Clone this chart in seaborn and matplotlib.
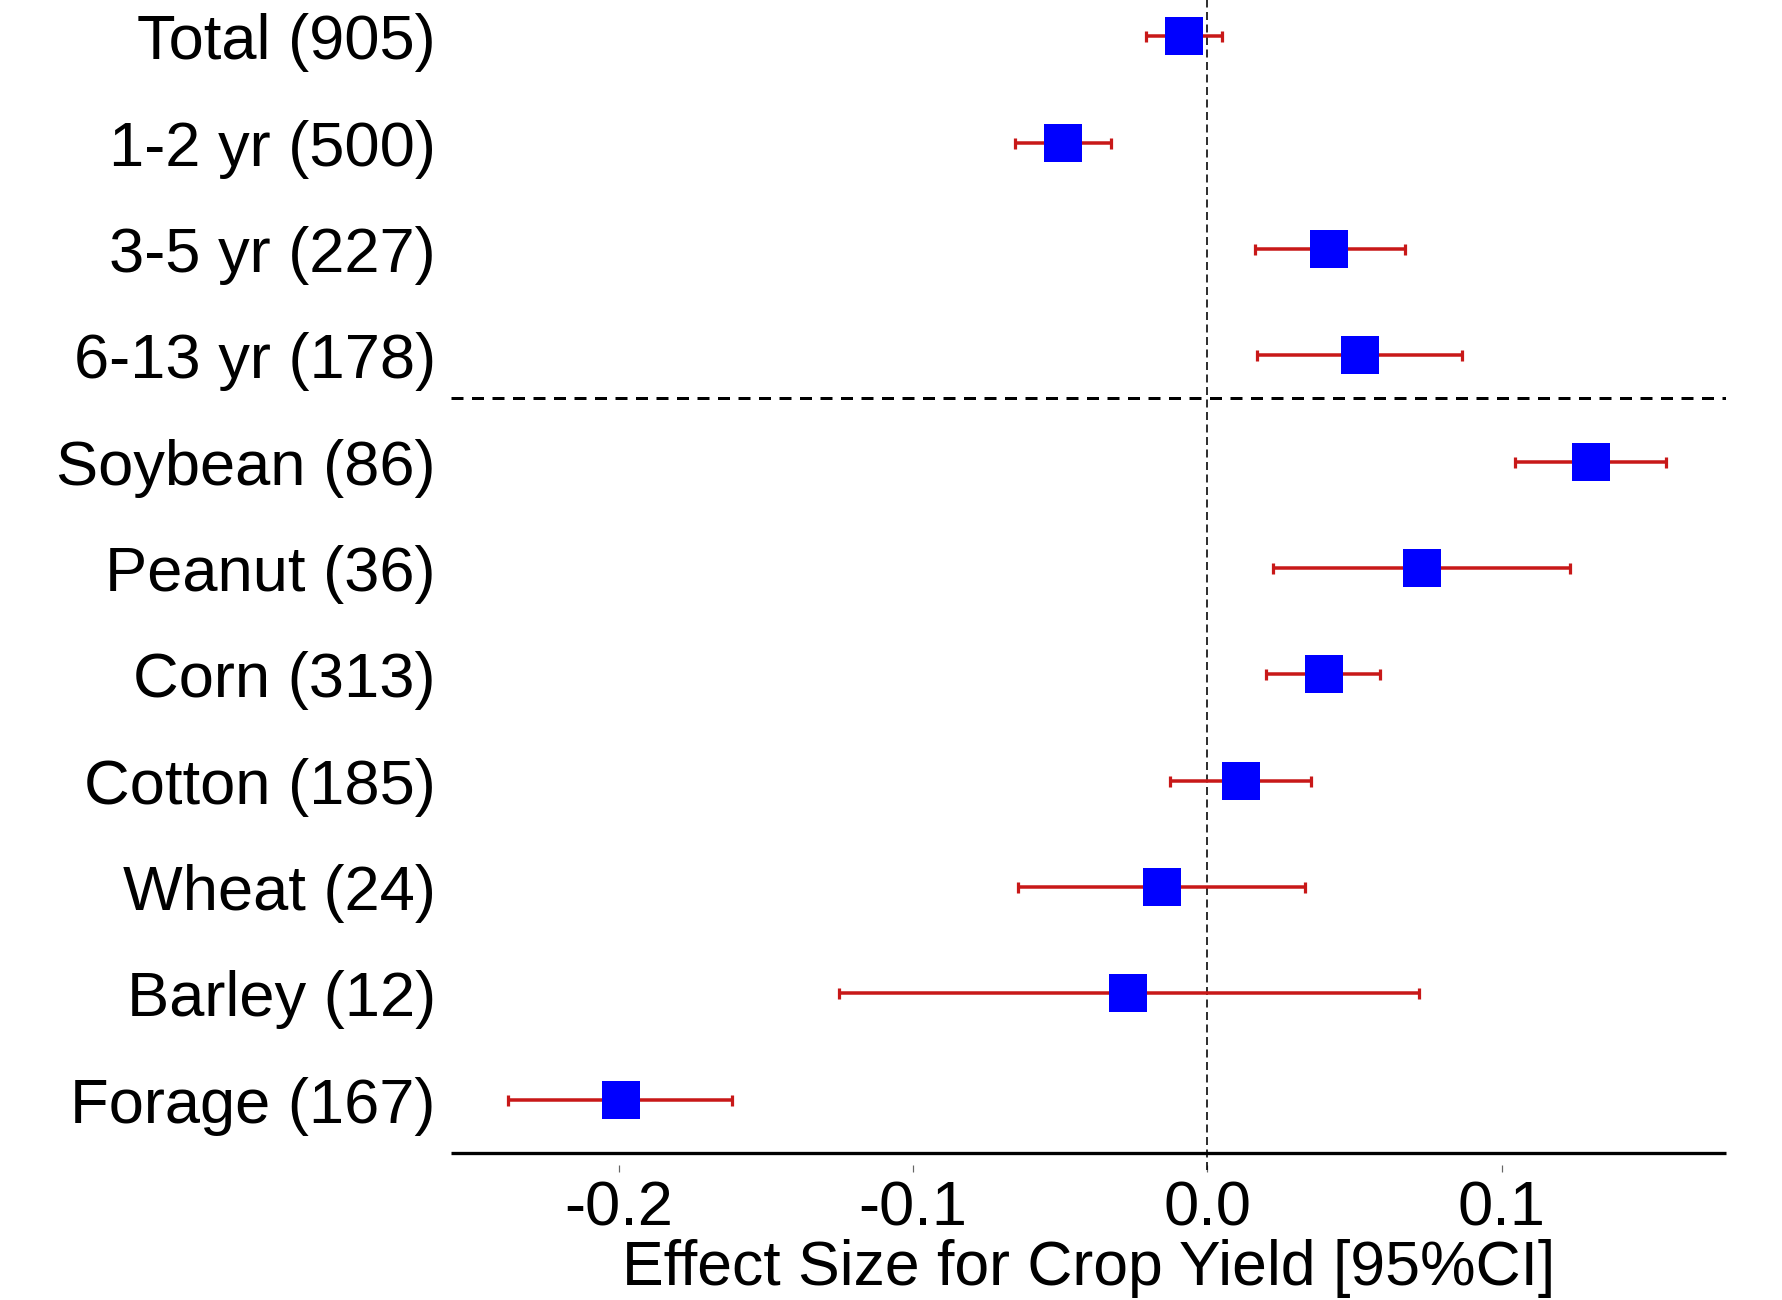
import numpy as np
import pandas as pd
import matplotlib
matplotlib.use("Agg")
import matplotlib.pyplot as plt
import seaborn as sns

# ---- data ----
labels = ["Total (905)", "1-2 yr (500)", "3-5 yr (227)", "6-13 yr (178)",
          "Soybean (86)", "Peanut (36)", "Corn (313)", "Cotton (185)",
          "Wheat (24)", "Barley (12)", "Forage (167)"]
effect = [-0.0078, -0.0490, 0.0414, 0.0519, 0.1304, 0.0728, 0.0397, 0.0116,
          -0.0154, -0.0270, -0.1991]
ci_low = [-0.0208, -0.0652, 0.0162, 0.0168, 0.1046, 0.0223, 0.0200, -0.0125,
          -0.0643, -0.1252, -0.2374]
ci_high = [0.0051, -0.0328, 0.0670, 0.0864, 0.1557, 0.1232, 0.0588, 0.0351,
           0.0333, 0.0719, -0.1614]
xticks = [-0.2, -0.1, 0.0, 0.1]
xtick_labels = ["-0.2", "-0.1", "0.0", "0.1"]
separator_after = 3.4
xlabel = "Effect Size for Crop Yield [95%CI]"

df = pd.DataFrame({"label": labels, "est": effect, "lo": ci_low, "hi": ci_high})
df["pos"] = np.arange(len(df))

sns.set_theme(style="white")
plt.rcParams["font.family"] = ["Liberation Sans", "DejaVu Sans"]
plt.rcParams["lines.scale_dashes"] = False

DPI = 100
fig = plt.figure(figsize=(17.82, 13.0), dpi=DPI)
ax = fig.add_axes([451 / 1782, 147 / 1300, (1726 - 451) / 1782, 1153 / 1300])

px = 72.0 / DPI  # points per pixel
FS = 45.5

# error bars
ax.errorbar(df["est"], df["pos"],
            xerr=[df["est"] - df["lo"], df["hi"] - df["est"]],
            fmt="none", ecolor="#C81818", elinewidth=3.5 * px,
            capsize=5.5 * px, capthick=3.2 * px, zorder=2)

# squares
sns.scatterplot(data=df, x="est", y="pos", marker="s", s=(37.5 * px) ** 2,
                color="#0000FF", edgecolor="#0000FF", linewidth=0,
                zorder=3, ax=ax, legend=False)

# reference lines
ax.axvline(0, ymin=-0.015, ymax=1, color="black", lw=1.6 * px,
           dashes=(8 * px, 4.5 * px), zorder=1, clip_on=False)
ax.axhline(separator_after, color="black", lw=3 * px,
           dashes=(12 * px, 8.5 * px), zorder=1)

ax.set_xlim(-0.2569, 0.1762)
ax.set_ylim(10.5, -0.34)

ax.set_yticks(df["pos"], df["label"])
ax.set_xticks(xticks, xtick_labels)

for s in ["top", "right", "left"]:
    ax.spines[s].set_visible(False)
ax.spines["bottom"].set_position(("outward", 12 * px))
ax.spines["bottom"].set_visible(False)
ax.plot([0, 1], [0, 0], transform=ax.transAxes, color="black",
        lw=3.3 * px, clip_on=False, solid_capstyle="butt", zorder=4)

ax.tick_params(axis="y", length=0, pad=11, labelsize=FS, labelcolor="black")
ax.tick_params(axis="x", bottom=True, length=7 * px, width=1.2 * px,
               color="#666666", pad=8 * px, labelsize=FS, labelcolor="black",
               direction="out")
ax.set_xlabel(xlabel, fontsize=FS - 0.5, color="black", labelpad=0)
ax.set_ylabel("")
ax.grid(False)

fig.savefig("out.png", dpi=DPI, facecolor="white")
